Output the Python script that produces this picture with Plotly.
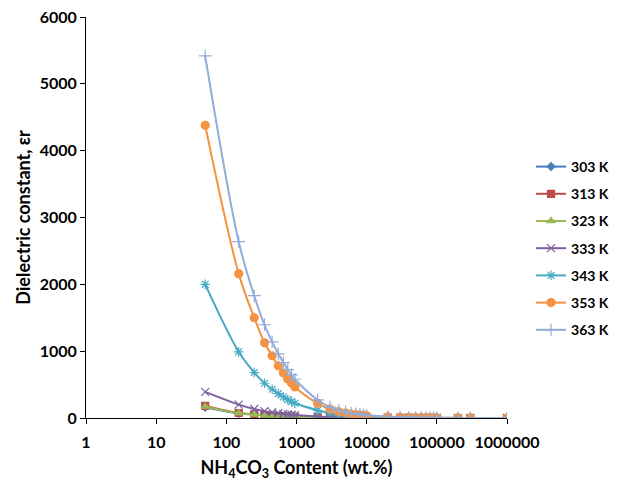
import plotly.graph_objects as go

content = [50, 150, 250, 350, 450, 550, 650, 750, 850, 950,
           2000, 3000, 4000, 5000, 6000, 7000, 8000, 9000, 10000,
           20000, 30000, 40000, 50000, 60000, 70000, 80000, 90000, 100000,
           200000, 300000, 1000000]

eps_303 = [160, 68, 50, 38, 31, 26, 22, 20, 18, 16, 8, 5.5, 4, 3.3, 2.8, 2.4, 2.1, 1.9, 1.7,
           0.85, 0.55, 0.42, 0.34, 0.28, 0.24, 0.21, 0.19, 0.17, 0.085, 0.055, 0.02]
eps_313 = [180, 75, 55, 42, 35, 29, 25, 22, 20, 18, 9, 6, 4.5, 3.6, 3, 2.6, 2.2, 2, 1.8,
           0.9, 0.6, 0.45, 0.36, 0.3, 0.26, 0.22, 0.2, 0.18, 0.09, 0.06, 0.02]
eps_323 = [172, 72, 52, 40, 33, 28, 24, 21, 19, 17, 8.5, 5.8, 4.3, 3.4, 2.9, 2.5, 2.1, 1.9, 1.7,
           0.88, 0.58, 0.44, 0.35, 0.29, 0.25, 0.22, 0.2, 0.18, 0.09, 0.06, 0.02]
eps_333 = [390, 200, 135, 103, 85, 72, 62, 55, 49, 44, 21, 14, 10, 8, 6.5, 5.5, 4.8, 4.2, 3.8,
           1.9, 1.3, 1, 0.8, 0.7, 0.6, 0.5, 0.45, 0.4, 0.2, 0.13, 0.04]
eps_343 = [2000, 990, 680, 520, 430, 365, 315, 275, 245, 220, 115, 70, 50, 39, 32, 27, 23, 20, 18,
           9, 6, 4.5, 3.6, 3, 2.6, 2.3, 2, 1.8, 0.9, 0.6, 0.2]
eps_353 = [4380, 2160, 1500, 1125, 930, 780, 675, 585, 525, 465, 220, 132, 95, 74, 60, 50, 43, 38, 34,
           17, 11, 8.5, 6.8, 5.7, 4.9, 4.3, 3.8, 3.4, 1.7, 1.1, 0.35]
eps_363 = [5418, 2640, 1830, 1395, 1140, 960, 830, 725, 645, 580, 270, 162, 116, 90, 73, 61, 53, 47, 42,
           21, 14, 10.5, 8.4, 7, 6, 5.3, 4.7, 4.2, 2.1, 1.4, 0.45]

series_names = ["303 K", "313 K", "323 K", "333 K", "343 K", "353 K", "363 K"]
series_values = [eps_303, eps_313, eps_323, eps_333, eps_343, eps_353, eps_363]
series_colors = ["#4A7EBB", "#BE4B48", "#98B954", "#7D60A0", "#46AAC5", "#F69240", "#93ABD8"]
series_symbols = ["diamond", "square", "triangle-up", "x-thin", "asterisk", "circle", "cross-thin"]
series_sizes = [6, 7, 7, 8, 8, 8, 9]

x_ticks = [1, 10, 100, 1000, 10000, 100000, 1000000]
x_ticktext = ["1", "10", "100", "1000", "10000", "100000", "1000000"]
y_ticks = [0, 1000, 2000, 3000, 4000, 5000, 6000]

FONT = "Lato"

fig = go.Figure()
for i, (name, vals, col, sym, sz) in enumerate(zip(series_names, series_values, series_colors,
                                                     series_symbols, series_sizes)):
    fig.add_trace(go.Scatter(
        x=content, y=vals, name=name, mode="lines+markers",
        line=dict(color=col, width=2, shape="spline", smoothing=1.0),
        marker=dict(symbol=sym, size=sz, color=col, line=dict(color=col, width=1.2)),
        legendgroup=name,
    ))

fig.update_layout(
    width=618, height=485,
    paper_bgcolor="white", plot_bgcolor="white",
    margin=dict(l=78, r=119, t=9, b=75),
    font=dict(family=FONT, color="#000000"),
    showlegend=True,
    legend=dict(
        xref="container", yref="container",
        x=0.8463, y=1 - 143 / 485, xanchor="left", yanchor="top",
        font=dict(family=FONT, size=14, weight="bold", color="#000000"),
        tracegroupgap=6, itemwidth=30, bgcolor="rgba(0,0,0,0)",
    ),
    xaxis=dict(
        type="log", range=[0, 6], automargin=False,
        tickvals=x_ticks, ticktext=x_ticktext,
        ticks="outside", ticklen=5, tickcolor="#000000", tickwidth=1,
        ticklabelstandoff=5, ticklabeloverflow="allow",
        showline=True, linecolor="#000000", linewidth=1,
        showgrid=False, zeroline=False,
        tickfont=dict(family=FONT, size=16, weight="bold"),
        title=dict(text="NH<sub>4</sub>CO<sub>3</sub> Content (wt.%)",
                   font=dict(family=FONT, size=18, weight="bold"), standoff=11),
    ),
    yaxis=dict(
        range=[0, 6000], tickvals=y_ticks, automargin=False,
        ticks="outside", ticklen=5, tickcolor="#000000", tickwidth=1,
        ticklabeloverflow="allow",
        showline=True, linecolor="#000000", linewidth=1,
        showgrid=False, zeroline=False,
        tickfont=dict(family=FONT, size=16, weight="bold"),
        title=dict(text="Dielectric constant, εr",
                   font=dict(family=FONT, size=18, weight="bold"), standoff=4),
    ),
)

fig.write_html("out.html")
